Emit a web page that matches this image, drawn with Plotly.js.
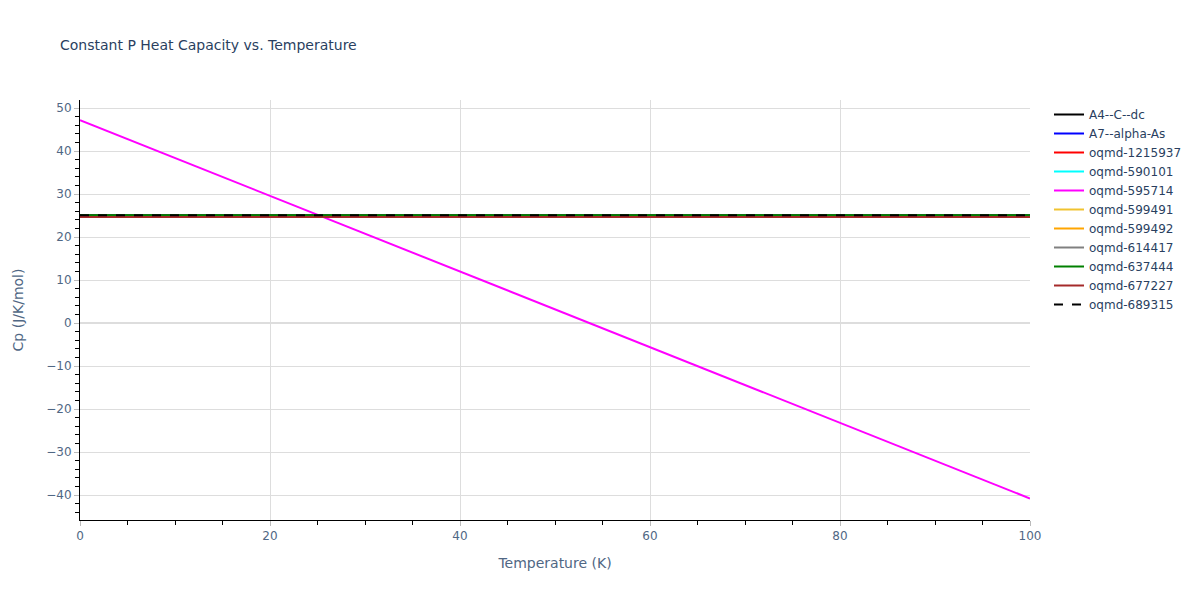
<!DOCTYPE html>
<html>
<head>
<meta charset="utf-8">
<script src="https://cdn.plot.ly/plotly-3.0.1.min.js"></script>
<style>html,body{margin:0;padding:0;}#chart{width:1200px;height:600px;}</style>
</head>
<body>
<div id="chart"></div>
<script>
const temperature = [0, 10, 20, 30, 40, 50, 60, 70, 80, 90, 100];
const seriesNames = ["A4--C--dc", "A7--alpha-As", "oqmd-1215937", "oqmd-590101", "oqmd-595714", "oqmd-599491", "oqmd-599492", "oqmd-614417", "oqmd-637444", "oqmd-677227", "oqmd-689315"];
const seriesColors = ["black", "blue", "red", "cyan", "magenta", "#f0c330", "orange", "gray", "green", "brown", "black"];
const cpA4 = [25.1, 25.1, 25.1, 25.1, 25.1, 25.1, 25.1, 25.1, 25.1, 25.1, 25.1];
const cpA7 = [24.9, 24.9, 24.9, 24.9, 24.9, 24.9, 24.9, 24.9, 24.9, 24.9, 24.9];
const cp1215937 = [24.8, 24.8, 24.8, 24.8, 24.8, 24.8, 24.8, 24.8, 24.8, 24.8, 24.8];
const cp590101 = [24.9, 24.9, 24.9, 24.9, 24.9, 24.9, 24.9, 24.9, 24.9, 24.9, 24.9];
const cp595714 = [47.2, 38.4, 29.6, 20.8, 12.0, 3.2, -5.6, -14.4, -23.2, -32.0, -40.8];
const cp599491 = [24.9, 24.9, 24.9, 24.9, 24.9, 24.9, 24.9, 24.9, 24.9, 24.9, 24.9];
const cp599492 = [24.9, 24.9, 24.9, 24.9, 24.9, 24.9, 24.9, 24.9, 24.9, 24.9, 24.9];
const cp614417 = [24.9, 24.9, 24.9, 24.9, 24.9, 24.9, 24.9, 24.9, 24.9, 24.9, 24.9];
const cp637444 = [25.1, 25.1, 25.1, 25.1, 25.1, 25.1, 25.1, 25.1, 25.1, 25.1, 25.1];
const cp677227 = [24.7, 24.7, 24.7, 24.7, 24.7, 24.7, 24.7, 24.7, 24.7, 24.7, 24.7];
const cp689315 = [25.1, 25.1, 25.1, 25.1, 25.1, 25.1, 25.1, 25.1, 25.1, 25.1, 25.1];
const seriesValues = [cpA4, cpA7, cp1215937, cp590101, cp595714, cp599491, cp599492, cp614417, cp637444, cp677227, cp689315];

const traces = seriesNames.map((name, i) => ({
  x: temperature,
  y: seriesValues[i],
  name: name,
  type: 'scatter',
  mode: 'lines',
  line: {color: seriesColors[i], width: 2, dash: i === 10 ? 'dash' : 'solid'}
}));

const axisCommon = {
  showline: true,
  linecolor: 'black',
  linewidth: 1,
  ticks: 'outside',
  tickcolor: '#bbbbbb',
  tickfont: {color: '#506784'},
  gridcolor: '#dddddd',
  zerolinecolor: '#dddddd',
  zerolinewidth: 2
};

const layout = {
  width: 1200,
  height: 600,
  paper_bgcolor: 'white',
  plot_bgcolor: 'white',
  font: {family: '"DejaVu Sans", Verdana, sans-serif', size: 12, color: '#2a3f5f'},
  title: {text: 'Constant P Heat Capacity vs. Temperature', x: 0.05, xref: 'container', font: {size: 14}},
  margin: {l: 80, r: 170, t: 100, b: 80},
  xaxis: Object.assign({}, axisCommon, {
    title: {text: 'Temperature (K)', font: {size: 14, color: '#506784'}, standoff: 15},
    range: [0, 100],
    dtick: 20,
    minor: {ticks: 'outside', tickcolor: 'black', ticklen: 4, dtick: 5}
  }),
  yaxis: Object.assign({}, axisCommon, {
    title: {text: 'Cp (J/K/mol)', font: {size: 14, color: '#506784'}, standoff: 19},
    range: [-45.8, 51.9],
    dtick: 10,
    minor: {ticks: 'outside', tickcolor: 'black', ticklen: 4, dtick: 2}
  }),
  legend: {x: 1.02, y: 1, xanchor: 'left', yanchor: 'top', font: {size: 12}},
  showlegend: true
};

Plotly.newPlot('chart', traces, layout, {displayModeBar: false});
</script>
</body>
</html>
